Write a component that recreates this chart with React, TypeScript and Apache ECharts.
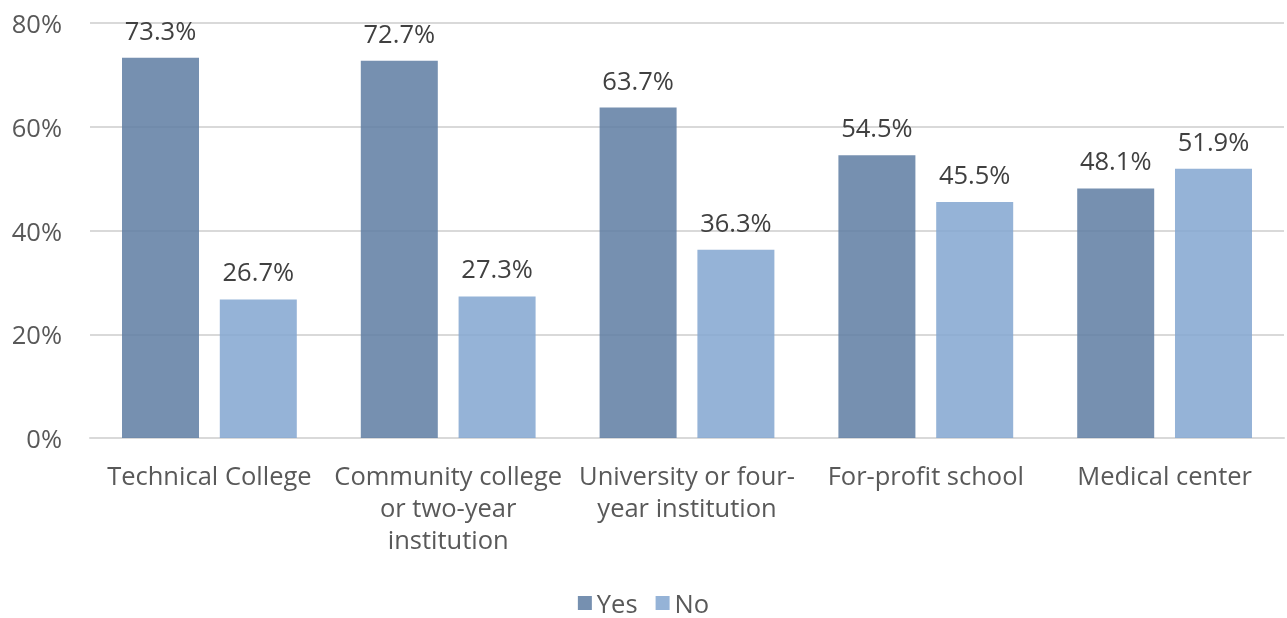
import React, { useEffect, useRef } from "react";
import * as echarts from "echarts";

const categories = [
  "Technical College",
  "Community college\nor two-year\ninstitution",
  "University or four-\nyear institution",
  "For-profit school",
  "Medical center",
];
const yesValues = [73.3, 72.7, 63.7, 54.5, 48.1];
const noValues = [26.7, 27.3, 36.3, 45.5, 51.9];
const seriesNames = ["Yes", "No"];

const FONT = "'Open Sans', 'Noto Sans', sans-serif";
const FS = 25.5;

export default function App() {
  const ref = useRef<HTMLDivElement>(null);
  useEffect(() => {
    if (!ref.current) return;
    const chart = echarts.init(ref.current, undefined, { renderer: "svg" });
    const label = {
      show: true,
      position: "top" as const,
      distance: 15,
      color: "#404040",
      fontSize: FS,
      fontFamily: FONT,
      formatter: (p: any) => p.value.toFixed(1) + "%",
    };
    chart.setOption({
      animation: false,
      grid: { left: 90, right: 3, top: 23, bottom: 180, containLabel: false },
      legend: {
        top: 585,
        left: "center",
        itemWidth: 14,
        itemHeight: 14,
        itemGap: 18,
        icon: "rect",
        textStyle: { color: "#595959", fontSize: FS, fontFamily: FONT, lineHeight: 22 },
        data: seriesNames,
      },
      xAxis: {
        type: "category",
        data: categories,
        axisLine: { show: true, lineStyle: { color: "#d9d9d9", width: 2 } },
        axisTick: { show: false },
        axisLabel: {
          color: "#595959",
          fontSize: FS,
          fontFamily: FONT,
          margin: 21,
          lineHeight: 32,
          interval: 0,
        },
      },
      yAxis: {
        type: "value",
        min: 0,
        max: 80,
        interval: 20,
        axisLine: { show: false },
        axisTick: { show: false },
        splitLine: { lineStyle: { color: "#d9d9d9", width: 2 } },
        axisLabel: {
          color: "#595959",
          fontSize: FS,
          fontFamily: FONT,
          margin: 28,
          formatter: "{value}%",
        },
      },
      series: [
        {
          name: seriesNames[0],
          type: "bar",
          data: yesValues,
          barWidth: 77,
          barGap: "27%",
          itemStyle: { color: "rgba(94,124,162,0.85)" },
          label,
        },
        {
          name: seriesNames[1],
          type: "bar",
          data: noValues,
          barWidth: 77,
          itemStyle: { color: "rgba(130,166,208,0.85)" },
          label,
        },
      ],
    });
    return () => chart.dispose();
  }, []);
  return (
    <div
      ref={ref}
      style={{ position: "fixed", left: 0, top: 0, width: 1287, height: 618 }}
    />
  );
}
